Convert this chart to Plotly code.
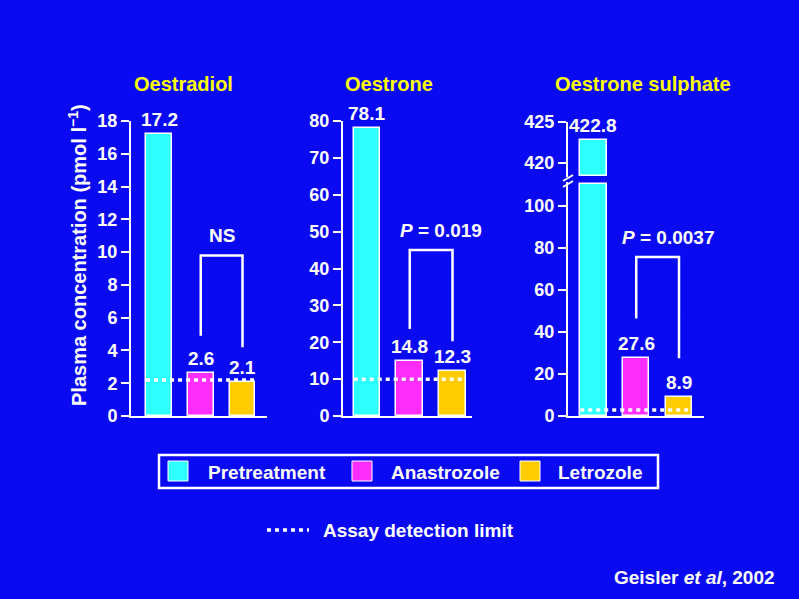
import plotly.graph_objects as go

# ---------------- data ----------------
panels = ["Oestradiol", "Oestrone", "Oestrone sulphate"]
groups = ["Pretreatment", "Anastrozole", "Letrozole"]
colors = ["#2EFFFF", "#FF2EFF", "#FFCC00"]
oestradiol = [17.2, 2.6, 2.1]
oestrone = [78.1, 14.8, 12.3]
oestrone_sulphate = [422.8, 27.6, 8.9]
detection_limit = [2.2, 10.0, 2.8]
bracket_left = [4.9, 23.6, 46.4]
bracket_top = [9.8, 45.0, 75.8]
bracket_right = [4.2, 20.3, 27.5]
bracket_labels = ["NS", "<i>P</i> = 0.019", "<i>P</i> = 0.0037"]
y1_ticks = [0, 2, 4, 6, 8, 10, 12, 14, 16, 18]
y2_ticks = [0, 10, 20, 30, 40, 50, 60, 70, 80]
y3_lower_ticks = [0, 20, 40, 60, 80, 100]
y3_upper_ticks = [420, 425]
y_title = "Plasma concentration (pmol l<sup>\u22121</sup>)"
source = "Geisler <i>et al</i>, 2002"
limit_label = "Assay detection limit"

# ---------------- layout helpers ----------------
W, H = 799, 599
BG = "#0A0AF2"
FONT = "Liberation Sans"
px = lambda p: p / W
py = lambda p: 1 - p / H

lower_max = 111.5      # top of lower segment of broken axis
upper_min = 418.3      # bottom of upper segment of broken axis
bar_w = 0.62
series = [oestradiol, oestrone, oestrone_sulphate]

fig = go.Figure()
xa = ["x", "x2", "x3"]
ya = ["y", "y2", "y3"]

for i, vals in enumerate(series):
    yv = vals if i < 2 else [min(v, lower_max - 0.8) for v in vals]
    fig.add_trace(go.Bar(x=[0, 1, 2], y=yv, width=bar_w,
                         marker=dict(color=colors, line=dict(color="white", width=1.5)),
                         xaxis=xa[i], yaxis=ya[i], showlegend=False, hoverinfo="skip"))
    # detection limit
    fig.add_trace(go.Scatter(x=[-bar_w / 2, 2 + bar_w / 2],
                             y=[detection_limit[i]] * 2, mode="lines",
                             line=dict(color="white", width=3.5, dash="4px,4px"),
                             xaxis=xa[i], yaxis=ya[i], showlegend=False, hoverinfo="skip"))
    # bracket
    fig.add_trace(go.Scatter(x=[1, 1, 2, 2],
                             y=[bracket_left[i], bracket_top[i], bracket_top[i], bracket_right[i]],
                             mode="lines", line=dict(color="white", width=2.5),
                             xaxis=xa[i], yaxis=ya[i], showlegend=False, hoverinfo="skip"))

# upper segment of broken bar (panel 3)
base = upper_min + 0.12
up_x = [j for j, v in enumerate(oestrone_sulphate) if v > upper_min]
up_y = [oestrone_sulphate[j] - base for j in up_x]
fig.add_trace(go.Bar(x=up_x, y=up_y, base=base, width=bar_w,
                     marker=dict(color=[colors[j] for j in up_x], line=dict(color="white", width=1.5)),
                     xaxis="x3", yaxis="y4", showlegend=False, hoverinfo="skip"))

tick_font = dict(family=FONT, size=18, color="white", weight="bold")
common_y = dict(showline=True, linecolor="white", linewidth=2, ticks="outside",
                ticklen=8, tickwidth=2, tickcolor="white", tickfont=tick_font,
                showgrid=False, zeroline=False, fixedrange=True, automargin=False)
common_x = dict(showline=True, linecolor="white", linewidth=2, showticklabels=False,
                ticks="", showgrid=False, zeroline=False, fixedrange=True, automargin=False)

y_dom = [py(416), py(121)]
fig.update_layout(
    width=W, height=H, autosize=False,
    margin=dict(l=0, r=0, t=0, b=0, pad=0, autoexpand=False),
    paper_bgcolor=BG, plot_bgcolor=BG, bargap=0, showlegend=False,
    xaxis=dict(domain=[px(131), px(267)], range=[-0.671, 2.587], anchor="y", **common_x),
    xaxis2=dict(domain=[px(343), px(472)], range=[-0.561, 2.456], anchor="y2", **common_x),
    xaxis3=dict(domain=[px(568), px(704)], range=[-0.596, 2.585], anchor="y3", **common_x),
    yaxis=dict(domain=y_dom, range=[0, 18], tickvals=y1_ticks, anchor="x", **common_y),
    yaxis2=dict(domain=y_dom, range=[0, 80], tickvals=y2_ticks, anchor="x2", **common_y),
    yaxis3=dict(domain=[py(416), py(182)], range=[0, lower_max], tickvals=y3_lower_ticks,
                anchor="x3", **common_y),
    yaxis4=dict(domain=[py(177), py(122)], range=[upper_min, 425], tickvals=y3_upper_ticks,
                anchor="x3", **common_y),
)

lab_font = dict(family=FONT, size=19, color="white", weight="bold")
ann = []
# value labels
for i, vals in enumerate(series):
    for j, v in enumerate(vals):
        yref = ya[i]
        if i == 2 and v > upper_min:
            yref = "y4"
        ann.append(dict(x=j, y=v, xref=xa[i], yref=yref, text=f"{v}", showarrow=False,
                        yanchor="bottom", yshift=2, font=lab_font))
    ann.append(dict(x=1.5, y=bracket_top[i], xref=xa[i], yref=ya[i], text=bracket_labels[i],
                    showarrow=False, yanchor="bottom", yshift=7, xshift=0 if i == 0 else 10,
                    font=lab_font))

# panel titles
title_x = [183, 389, 643]
for i, t in enumerate(panels):
    ann.append(dict(x=px(title_x[i]), y=py(84), xref="paper", yref="paper", text=t,
                    showarrow=False, xanchor="center", yanchor="middle",
                    font=dict(family=FONT, size=20, color="#FFFF00", weight="bold")))

# y axis title
ann.append(dict(x=px(77), y=py(255), xref="paper", yref="paper", text=y_title, textangle=-90,
                showarrow=False, xanchor="center", yanchor="middle",
                font=dict(family=FONT, size=20, color="white", weight="bold")))

# legend (manual)
shapes = []
shapes.append(dict(type="rect", xref="paper", yref="paper", x0=px(159), x1=px(658),
                   y0=py(488), y1=py(455), line=dict(color="white", width=2.5)))
sw_x = [168, 352, 520]
txt_x = [206, 389, 556]
for k, g in enumerate(groups):
    shapes.append(dict(type="rect", xref="paper", yref="paper", x0=px(sw_x[k]), x1=px(sw_x[k] + 20),
                       y0=py(481), y1=py(461), fillcolor=colors[k],
                       line=dict(color="white", width=1)))
    ann.append(dict(x=px(txt_x[k]), y=py(472), xref="paper", yref="paper", text=g,
                    showarrow=False, xanchor="left", yanchor="middle", font=lab_font))

shapes.append(dict(type="line", xref="paper", yref="paper", x0=px(267), x1=px(309),
                   y0=py(530), y1=py(530), line=dict(color="white", width=3.5, dash="4px,4px")))
ann.append(dict(x=px(321), y=py(530), xref="paper", yref="paper", text=limit_label,
                showarrow=False, xanchor="left", yanchor="middle", font=lab_font))
ann.append(dict(x=px(612), y=py(577), xref="paper", yref="paper", text=source,
                showarrow=False, xanchor="left", yanchor="middle", font=lab_font))

# axis break marks
shapes.append(dict(type="line", xref="paper", yref="paper", x0=px(563), x1=px(573),
                   y0=py(181), y1=py(175), line=dict(color="white", width=2)))
shapes.append(dict(type="line", xref="paper", yref="paper", x0=px(563), x1=px(573),
                   y0=py(187), y1=py(181), line=dict(color="white", width=2)))

fig.update_layout(annotations=ann, shapes=shapes)
fig.write_html("out.html", config={"displayModeBar": False, "responsive": False},
               post_script="document.body.style.margin='0';document.body.style.overflow='hidden';")
